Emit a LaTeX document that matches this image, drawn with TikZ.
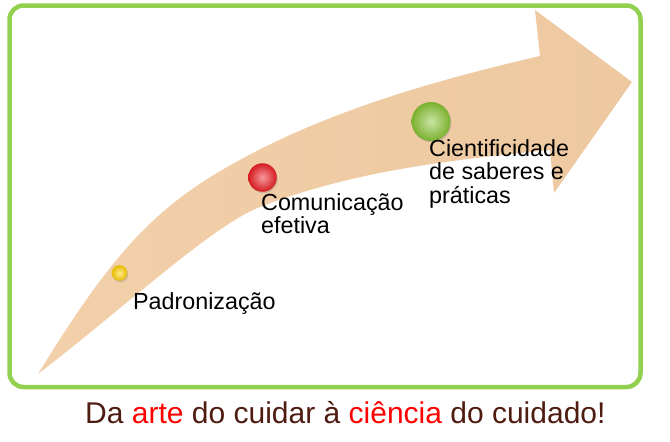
\documentclass[tikz,border=0pt]{standalone}
\usepackage{fontspec}
\setmainfont{Liberation Sans}
\usetikzlibrary{shadows}
\definecolor{framegreen}{RGB}{146,208,80}
\definecolor{peachlight}{RGB}{253,234,204}
\definecolor{peachdark}{RGB}{237,200,160}
\definecolor{peachtail}{RGB}{242,208,170}
\definecolor{mottobrown}{RGB}{78,28,16}
\definecolor{dotyellow}{RGB}{255,208,0}
\definecolor{dotred}{RGB}{236,30,36}
\definecolor{dotgreen}{RGB}{136,196,52}

\begin{document}
\begin{tikzpicture}[x=1pt,y=-1pt,
  lbl/.style={anchor=base west,align=left,inner sep=0pt,
              font=\fontsize{23.3}{23.5}\selectfont},
  dot/.style={circle,inner sep=0pt,inner color=#1!45!white,outer color=#1!90!black,
              drop shadow={opacity=0.3,shadow xshift=1pt,shadow yshift=-1.5pt}},
  frame/.style={draw=framegreen,line width=4.5pt,rounded corners=14pt}
]
\useasboundingbox (0,0) rectangle (670,442);
\draw[frame] (9.5,5.5) rectangle (640.5,387);

% curved arrow
\shade[left color=peachtail,middle color=peachlight,right color=peachdark]
  (38,374) .. controls (105.9,263.1) and (148.4,214.2) .. (217,173)
  .. controls (311.3,116.4) and (423.1,83) .. (540,56)
  -- (535,10) -- (632,82) -- (554,193) -- (550,150)
  .. controls (450,160) and (353,171) .. (260,207)
  .. controls (213,225) and (125,307) .. cycle;

% milestones
\node[dot=dotyellow,minimum size=15.6pt] (dota) at (119.5,273) {};
\node[dot=dotred,minimum size=28.5pt] (dotb) at (262.5,177.5) {};
\node[dot=dotgreen,minimum size=39pt] (dotc) at (431,121.5) {};

\node[lbl] (padr) at (133,309) {Padronização};
\node[lbl] (comu) at (261,233.5) {Comunicação\\efetiva};
\node[lbl] (cien) at (429,203) {Cientificidade\\de saberes e\\práticas};

\node[anchor=base west,inner sep=0pt,text=mottobrown,
      font=\fontsize{30}{36}\selectfont] (motto) at (85,423)
  {Da \textcolor{red}{arte} do cuidar à \textcolor{red}{ciência} do cuidado!};
\end{tikzpicture}
\end{document}
